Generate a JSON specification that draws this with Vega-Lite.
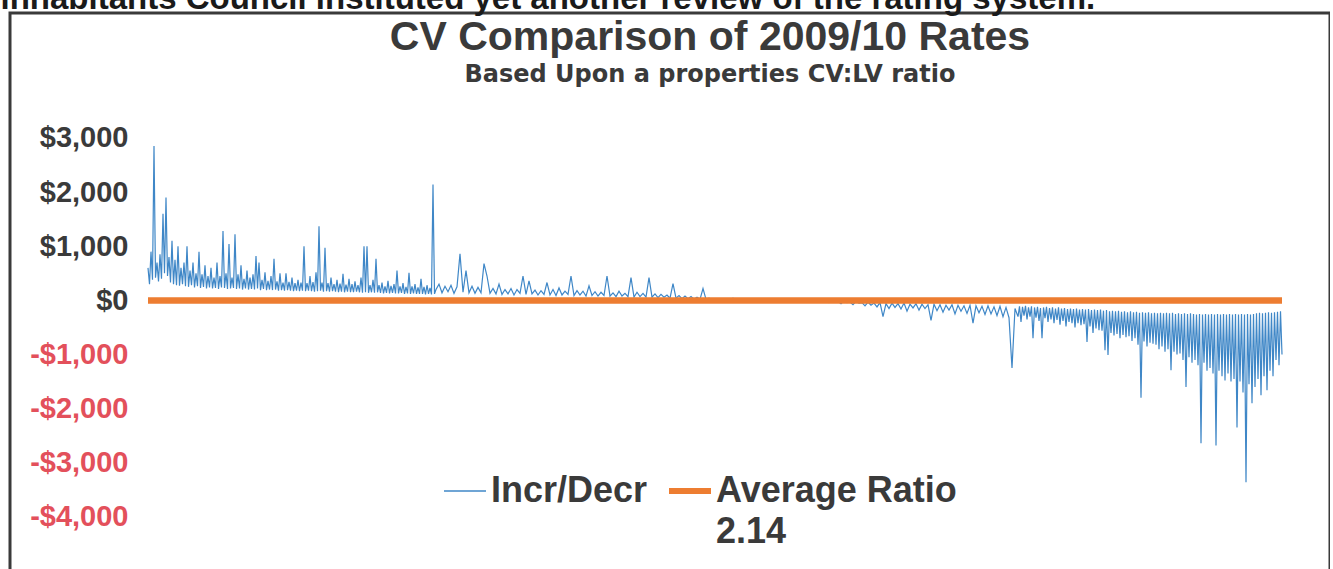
{
  "$schema": "https://vega.github.io/schema/vega-lite/v6.json",
  "width": 1320,
  "height": 570,
  "autosize": {"type": "none"},
  "padding": {"left": 10, "top": 13, "right": 0, "bottom": 0},
  "background": "#ffffff",
  "config": {"view": {"stroke": "#3a3a3a", "strokeWidth": 3}, "font": "Liberation Sans"},
  "title": {
    "text": "CV Comparison of 2009/10 Rates",
    "subtitle": "Based Upon a properties CV:LV ratio",
    "anchor": "middle",
    "frame": "group",
    "offset": -106,
    "dx": 40,
    "fontSize": 41,
    "fontWeight": "bold",
    "font": "Liberation Sans",
    "color": "#3a3a3a",
    "subtitleFont": "DejaVu Sans",
    "subtitleFontSize": 24,
    "subtitleFontWeight": "bold",
    "subtitleColor": "#3a3a3a",
    "subtitlePadding": 4
  },
  "datasets": {
    "incr": [
      {"i":0,"v":600},{"i":0.5,"v":300},{"i":1,"v":900},{"i":1.5,"v":380},{"i":2,"v":2850},{"i":2.5,"v":420},{"i":3,"v":700},{"i":3.5,"v":350},{"i":4,"v":850},{"i":4.5,"v":400},
      {"i":5,"v":1600},{"i":5.5,"v":500},{"i":6,"v":1900},{"i":6.5,"v":450},{"i":7,"v":800},{"i":7.5,"v":330},{"i":8,"v":1100},{"i":8.5,"v":300},{"i":9,"v":750},{"i":9.5,"v":280},
      {"i":10,"v":1000},{"i":10.5,"v":270},{"i":11,"v":600},{"i":11.5,"v":300},{"i":12,"v":700},{"i":12.5,"v":260},{"i":13,"v":1000},{"i":13.5,"v":250},{"i":14,"v":550},{"i":14.5,"v":280},
      {"i":15,"v":700},{"i":15.5,"v":240},{"i":16,"v":500},{"i":16.5,"v":260},{"i":17,"v":900},{"i":17.5,"v":230},{"i":18,"v":480},{"i":18.5,"v":250},{"i":19,"v":650},{"i":19.5,"v":220},
      {"i":20,"v":450},{"i":20.5,"v":240},{"i":21,"v":600},{"i":21.5,"v":220},{"i":22,"v":420},{"i":22.5,"v":230},{"i":23,"v":700},{"i":23.5,"v":210},{"i":24,"v":450},{"i":24.5,"v":240},
      {"i":25,"v":1280},{"i":25.5,"v":230},{"i":26,"v":500},{"i":26.5,"v":210},{"i":27,"v":1040},{"i":27.5,"v":220},{"i":28,"v":420},{"i":28.5,"v":230},{"i":29,"v":1220},{"i":29.5,"v":210},
      {"i":30,"v":480},{"i":30.5,"v":220},{"i":31,"v":650},{"i":31.5,"v":200},{"i":32,"v":400},{"i":32.5,"v":220},{"i":33,"v":550},{"i":33.5,"v":200},{"i":34,"v":420},{"i":34.5,"v":210},
      {"i":35,"v":480},{"i":35.5,"v":200},{"i":36,"v":820},{"i":36.5,"v":220},{"i":37,"v":700},{"i":37.5,"v":190},{"i":38,"v":380},{"i":38.5,"v":210},{"i":39,"v":520},{"i":39.5,"v":190},
      {"i":40,"v":360},{"i":40.5,"v":200},{"i":41,"v":450},{"i":41.5,"v":190},{"i":42,"v":770},{"i":42.5,"v":200},{"i":43,"v":350},{"i":43.5,"v":180},{"i":44,"v":500},{"i":44.5,"v":190},
      {"i":45,"v":330},{"i":45.5,"v":180},{"i":46,"v":500},{"i":46.5,"v":190},{"i":47,"v":340},{"i":47.5,"v":180},{"i":48,"v":420},{"i":48.5,"v":170},{"i":49,"v":320},{"i":49.5,"v":180},
      {"i":50,"v":380},{"i":50.5,"v":170},{"i":51,"v":330},{"i":51.5,"v":180},{"i":52,"v":1000},{"i":52.5,"v":170},{"i":53,"v":320},{"i":53.5,"v":180},{"i":54,"v":450},{"i":54.5,"v":170},
      {"i":55,"v":340},{"i":55.5,"v":160},{"i":56,"v":520},{"i":56.5,"v":170},{"i":57,"v":1370},{"i":57.5,"v":180},{"i":58,"v":330},{"i":58.5,"v":160},{"i":59,"v":970},{"i":59.5,"v":170},
      {"i":60,"v":320},{"i":60.5,"v":160},{"i":61,"v":420},{"i":61.5,"v":170},{"i":62,"v":300},{"i":62.5,"v":160},{"i":63,"v":380},{"i":63.5,"v":150},{"i":64,"v":310},{"i":64.5,"v":160},
      {"i":65,"v":490},{"i":65.5,"v":150},{"i":66,"v":290},{"i":66.5,"v":160},{"i":67,"v":400},{"i":67.5,"v":150},{"i":68,"v":300},{"i":68.5,"v":150},{"i":69,"v":350},{"i":69.5,"v":160},
      {"i":70,"v":280},{"i":70.5,"v":150},{"i":71,"v":420},{"i":71.5,"v":140},{"i":72,"v":1000},{"i":72.5,"v":150},{"i":73,"v":1000},{"i":73.5,"v":140},{"i":74,"v":280},{"i":74.5,"v":150},
      {"i":75,"v":380},{"i":75.5,"v":140},{"i":76,"v":770},{"i":76.5,"v":150},{"i":77,"v":280},{"i":77.5,"v":140},{"i":78,"v":330},{"i":78.5,"v":130},{"i":79,"v":260},{"i":79.5,"v":140},
      {"i":80,"v":360},{"i":80.5,"v":130},{"i":81,"v":270},{"i":81.5,"v":140},{"i":82,"v":300},{"i":82.5,"v":130},{"i":83,"v":550},{"i":83.5,"v":130},{"i":84,"v":260},{"i":84.5,"v":140},
      {"i":85,"v":320},{"i":85.5,"v":120},{"i":86,"v":250},{"i":86.5,"v":130},{"i":87,"v":510},{"i":87.5,"v":120},{"i":88,"v":260},{"i":88.5,"v":130},{"i":89,"v":300},{"i":89.5,"v":120},
      {"i":90,"v":240},{"i":90.5,"v":120},{"i":91,"v":400},{"i":91.5,"v":120},{"i":92,"v":250},{"i":92.5,"v":110},{"i":93,"v":280},{"i":93.5,"v":120},{"i":94,"v":230},{"i":94.5,"v":110},
      {"i":95,"v":2140},{"i":95.5,"v":120},
      {"i":96,"v":200},{"i":97,"v":300},{"i":98,"v":140},{"i":99,"v":260},
      {"i":100,"v":160},{"i":101,"v":280},{"i":102,"v":130},{"i":103,"v":250},{"i":104,"v":860},{"i":105,"v":150},{"i":106,"v":550},{"i":107,"v":140},{"i":108,"v":260},{"i":109,"v":130},
      {"i":110,"v":240},{"i":111,"v":140},{"i":112,"v":680},{"i":113,"v":450},{"i":114,"v":130},{"i":115,"v":220},{"i":116,"v":120},{"i":117,"v":300},{"i":118,"v":110},{"i":119,"v":200},
      {"i":120,"v":120},{"i":121,"v":220},{"i":122,"v":100},{"i":123,"v":200},{"i":124,"v":130},{"i":125,"v":450},{"i":126,"v":110},{"i":127,"v":360},{"i":128,"v":120},{"i":129,"v":190},
      {"i":130,"v":100},{"i":131,"v":180},{"i":132,"v":110},{"i":133,"v":330},{"i":134,"v":100},{"i":135,"v":200},{"i":136,"v":90},{"i":137,"v":230},{"i":138,"v":100},{"i":139,"v":170},
      {"i":140,"v":110},{"i":141,"v":450},{"i":142,"v":90},{"i":143,"v":180},{"i":144,"v":100},{"i":145,"v":170},{"i":146,"v":80},{"i":147,"v":270},{"i":148,"v":90},{"i":149,"v":160},
      {"i":150,"v":80},{"i":151,"v":150},{"i":152,"v":90},{"i":153,"v":450},{"i":154,"v":80},{"i":155,"v":140},{"i":156,"v":70},{"i":157,"v":170},{"i":158,"v":80},{"i":159,"v":130},
      {"i":160,"v":70},{"i":161,"v":420},{"i":162,"v":60},{"i":163,"v":150},{"i":164,"v":70},{"i":165,"v":130},{"i":166,"v":60},{"i":167,"v":420},{"i":168,"v":60},{"i":169,"v":120},
      {"i":170,"v":50},{"i":171,"v":110},{"i":172,"v":60},{"i":173,"v":100},{"i":174,"v":40},{"i":175,"v":310},{"i":176,"v":40},{"i":177,"v":90},{"i":178,"v":30},{"i":179,"v":80},
      {"i":180,"v":30},{"i":181,"v":70},{"i":182,"v":20},{"i":183,"v":60},{"i":184,"v":20},{"i":185,"v":220},{"i":186,"v":20},{"i":187,"v":40},{"i":188,"v":10},{"i":189,"v":30},
      {"i":190,"v":10},{"i":191,"v":30},{"i":192,"v":0},{"i":193,"v":20},{"i":194,"v":10},{"i":195,"v":40},{"i":196,"v":0},{"i":197,"v":20},{"i":198,"v":10},{"i":199,"v":30},
      {"i":200,"v":0},{"i":201,"v":20},{"i":202,"v":0},{"i":203,"v":10},{"i":204,"v":0},{"i":205,"v":30},{"i":206,"v":0},{"i":207,"v":10},{"i":208,"v":0},{"i":209,"v":20},
      {"i":210,"v":0},{"i":211,"v":10},{"i":212,"v":-10},{"i":213,"v":0},{"i":214,"v":10},{"i":215,"v":0},{"i":216,"v":-10},{"i":217,"v":0},{"i":218,"v":0},{"i":219,"v":-20},
      {"i":220,"v":0},{"i":221,"v":-10},{"i":222,"v":-20},{"i":223,"v":0},{"i":224,"v":-30},{"i":225,"v":-10},{"i":226,"v":0},{"i":227,"v":-40},{"i":228,"v":-10},{"i":229,"v":-30},
      {"i":230,"v":-20},{"i":231,"v":-60},{"i":232,"v":-10},{"i":233,"v":-40},{"i":234,"v":-30},{"i":235,"v":-80},{"i":236,"v":-20},{"i":237,"v":-50},{"i":238,"v":-40},{"i":239,"v":-100},
      {"i":240,"v":-30},{"i":241,"v":-90},{"i":242,"v":-50},{"i":243,"v":-120},{"i":244,"v":-40},{"i":245,"v":-300},{"i":246,"v":-60},{"i":247,"v":-150},{"i":248,"v":-50},{"i":249,"v":-130},
      {"i":250,"v":-60},{"i":251,"v":-160},{"i":252,"v":-50},{"i":253,"v":-200},{"i":254,"v":-70},{"i":255,"v":-140},{"i":256,"v":-60},{"i":257,"v":-180},{"i":258,"v":-70},{"i":259,"v":-150},
      {"i":260,"v":-80},{"i":261,"v":-370},{"i":262,"v":-70},{"i":263,"v":-190},{"i":264,"v":-80},{"i":265,"v":-220},{"i":266,"v":-90},{"i":267,"v":-180},{"i":268,"v":-80},{"i":269,"v":-250},
      {"i":270,"v":-90},{"i":271,"v":-200},{"i":272,"v":-100},{"i":273,"v":-240},{"i":274,"v":-90},{"i":275,"v":-420},{"i":276,"v":-100},{"i":277,"v":-230},{"i":278,"v":-110},{"i":279,"v":-260},
      {"i":280,"v":-100},{"i":281,"v":-250},{"i":282,"v":-120},{"i":283,"v":-280},{"i":284,"v":-110},{"i":285,"v":-300},{"i":286,"v":-130},{"i":287,"v":-320},{"i":288,"v":-1250},{"i":289,"v":-150},
      {"i":290,"v":-300},{"i":290.5,"v":-110},{"i":291,"v":-400},{"i":291.5,"v":-120},{"i":292,"v":-280},{"i":292.5,"v":-100},{"i":293,"v":-350},{"i":293.5,"v":-130},{"i":294,"v":-300},{"i":294.5,"v":-110},
      {"i":295,"v":-700},{"i":295.5,"v":-130},{"i":296,"v":-320},{"i":296.5,"v":-120},{"i":297,"v":-380},{"i":297.5,"v":-140},{"i":298,"v":-700},{"i":298.5,"v":-130},{"i":299,"v":-330},{"i":299.5,"v":-120},
      {"i":300,"v":-400},{"i":300.5,"v":-140},{"i":301,"v":-350},{"i":301.5,"v":-130},{"i":302,"v":-420},{"i":302.5,"v":-150},{"i":303,"v":-360},{"i":303.5,"v":-130},{"i":304,"v":-450},{"i":304.5,"v":-150},
      {"i":305,"v":-380},{"i":305.5,"v":-140},{"i":306,"v":-480},{"i":306.5,"v":-160},{"i":307,"v":-400},{"i":307.5,"v":-150},{"i":308,"v":-420},{"i":308.5,"v":-160},{"i":309,"v":-500},{"i":309.5,"v":-150},
      {"i":310,"v":-420},{"i":310.5,"v":-170},{"i":311,"v":-460},{"i":311.5,"v":-160},{"i":312,"v":-440},{"i":312.5,"v":-170},{"i":313,"v":-770},{"i":313.5,"v":-160},{"i":314,"v":-480},{"i":314.5,"v":-180},
      {"i":315,"v":-600},{"i":315.5,"v":-170},{"i":316,"v":-520},{"i":316.5,"v":-180},{"i":317,"v":-550},{"i":317.5,"v":-170},{"i":318,"v":-560},{"i":318.5,"v":-190},{"i":319,"v":-920},{"i":319.5,"v":-180},
      {"i":320,"v":-1010},{"i":320.5,"v":-200},{"i":321,"v":-600},{"i":321.5,"v":-190},{"i":322,"v":-650},{"i":322.5,"v":-200},{"i":323,"v":-620},{"i":323.5,"v":-190},{"i":324,"v":-700},{"i":324.5,"v":-210},
      {"i":325,"v":-640},{"i":325.5,"v":-200},{"i":326,"v":-680},{"i":326.5,"v":-220},{"i":327,"v":-660},{"i":327.5,"v":-200},{"i":328,"v":-750},{"i":328.5,"v":-220},{"i":329,"v":-700},{"i":329.5,"v":-210},
      {"i":330,"v":-820},{"i":330.5,"v":-230},{"i":331,"v":-1800},{"i":331.5,"v":-220},{"i":332,"v":-760},{"i":332.5,"v":-230},{"i":333,"v":-850},{"i":333.5,"v":-220},{"i":334,"v":-780},{"i":334.5,"v":-240},
      {"i":335,"v":-800},{"i":335.5,"v":-230},{"i":336,"v":-820},{"i":336.5,"v":-240},{"i":337,"v":-900},{"i":337.5,"v":-230},{"i":338,"v":-850},{"i":338.5,"v":-240},{"i":339,"v":-950},{"i":339.5,"v":-230},
      {"i":340,"v":-900},{"i":340.5,"v":-240},{"i":341,"v":-1290},{"i":341.5,"v":-230},{"i":342,"v":-950},{"i":342.5,"v":-250},{"i":343,"v":-1000},{"i":343.5,"v":-240},{"i":344,"v":-980},{"i":344.5,"v":-250},
      {"i":345,"v":-1100},{"i":345.5,"v":-240},{"i":346,"v":-1600},{"i":346.5,"v":-250},{"i":347,"v":-1050},{"i":347.5,"v":-240},{"i":348,"v":-1150},{"i":348.5,"v":-250},{"i":349,"v":-1100},{"i":349.5,"v":-260},
      {"i":350,"v":-1200},{"i":350.5,"v":-250},{"i":351,"v":-2640},{"i":351.5,"v":-260},{"i":352,"v":-1150},{"i":352.5,"v":-250},{"i":353,"v":-1300},{"i":353.5,"v":-260},{"i":354,"v":-1250},{"i":354.5,"v":-250},
      {"i":355,"v":-1350},{"i":355.5,"v":-260},{"i":356,"v":-2680},{"i":356.5,"v":-250},{"i":357,"v":-1300},{"i":357.5,"v":-260},{"i":358,"v":-1400},{"i":358.5,"v":-250},{"i":359,"v":-1480},{"i":359.5,"v":-260},
      {"i":360,"v":-1350},{"i":360.5,"v":-250},{"i":361,"v":-1500},{"i":361.5,"v":-260},{"i":362,"v":-1450},{"i":362.5,"v":-250},{"i":363,"v":-2350},{"i":363.5,"v":-260},{"i":364,"v":-1500},{"i":364.5,"v":-250},
      {"i":365,"v":-1700},{"i":365.5,"v":-260},{"i":366,"v":-3360},{"i":366.5,"v":-250},{"i":367,"v":-1550},{"i":367.5,"v":-260},{"i":368,"v":-1900},{"i":368.5,"v":-250},{"i":369,"v":-1600},{"i":369.5,"v":-240},
      {"i":370,"v":-1450},{"i":370.5,"v":-230},{"i":371,"v":-1750},{"i":371.5,"v":-240},{"i":372,"v":-1400},{"i":372.5,"v":-230},{"i":373,"v":-1660},{"i":373.5,"v":-220},{"i":374,"v":-1300},{"i":374.5,"v":-230},
      {"i":375,"v":-1400},{"i":375.5,"v":-220},{"i":376,"v":-1100},{"i":376.5,"v":-210},{"i":377,"v":-1200},{"i":377.5,"v":-200},{"i":378,"v":-1000}
    ],
    "avg": [
      {"s": "Average Ratio 2.14", "i": 0, "v": 0},
      {"s": "Average Ratio 2.14", "i": 378, "v": 0}
    ]
  },
  "layer": [
    {
      "data": {"name": "incr"},
      "mark": {"type": "line", "strokeWidth": 1.2, "clip": true},
      "encoding": {
        "x": {
          "field": "i",
          "type": "quantitative",
          "scale": {"domain": [-46, 394], "nice": false, "zero": false},
          "axis": {
            "orient": "top",
            "labels": false,
            "ticks": false,
            "domain": false,
            "grid": false,
            "title": "inhabitants Council instituted yet another review of the rating system.",
            "titleAnchor": "start",
            "titleAlign": "left",
            "titleBaseline": "alphabetic",
            "titleX": -10,
            "titleY": -5,
            "titleFontSize": 33,
            "titleFontWeight": "bold",
            "titleColor": "#1a1a1a"
          }
        },
        "y": {
          "field": "v",
          "type": "quantitative",
          "scale": {"domain": [-5220, 5308], "nice": false, "zero": false},
          "axis": {
            "orient": "left",
            "offset": -118,
            "values": [-4000, -3000, -2000, -1000, 0, 1000, 2000, 3000],
            "grid": false,
            "domain": false,
            "ticks": false,
            "title": null,
            "labelPadding": 0,
            "labelFontSize": 29,
            "labelFontWeight": "bold",
            "labelFont": "Liberation Sans",
            "labelBaseline": "middle",
            "labelExpr": "(datum.value < 0 ? '-' : '') + '$' + format(abs(datum.value), ',')",
            "labelColor": {"condition": {"test": "datum.value < 0", "value": "#e3505b"}, "value": "#3a3a3a"}
          }
        },
        "color": {
          "datum": "Incr/Decr",
          "type": "nominal",
          "scale": {"domain": ["Incr/Decr", "Average Ratio 2.14"], "range": ["#3f87c7", "#ed7d31"]},
          "legend": {
            "orient": "none",
            "legendX": 437,
            "legendY": 460,
            "direction": "horizontal",
            "title": null,
            "symbolType": "stroke",
            "symbolSize": 1764,
            "symbolStrokeWidth": 3,
            "labelFontSize": 36,
            "labelFontWeight": "bold",
            "labelFont": "Liberation Sans",
            "labelColor": "#3a3a3a",
            "labelOffset": 8,
            "columnPadding": 9,
            "labelLimit": 0,
            "labelExpr": "datum.value == 'Average Ratio 2.14' ? ['Average Ratio', '2.14'] : [datum.value, ' ']",
            "encode": {
              "symbols": {"update": {"strokeWidth": {"signal": "datum.value == 'Incr/Decr' ? 1.5 : 6"}, "stroke": {"signal": "datum.value == 'Incr/Decr' ? '#92c5e8' : '#ed7d31'"}}},
              "labels": {"update": {"lineHeight": {"value": 41}}}
            }
          }
        }
      }
    },
    {
      "data": {"name": "avg"},
      "mark": {"type": "line", "strokeWidth": 6.5},
      "encoding": {
        "x": {"field": "i", "type": "quantitative"},
        "y": {"field": "v", "type": "quantitative"},
        "color": {"field": "s", "type": "nominal", "title": null}
      }
    }
  ]
}
